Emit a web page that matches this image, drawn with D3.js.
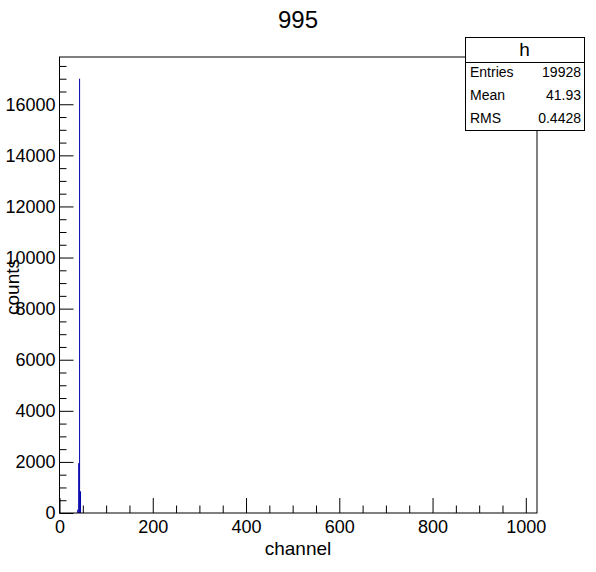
<!DOCTYPE html>
<html>
<head>
<meta charset="utf-8">
<script src="https://cdn.jsdelivr.net/npm/d3@7"></script>
<style>
  body { margin: 0; background: #fff; }
  text { font-family: "Liberation Sans", Arial, sans-serif; }
</style>
</head>
<body>
<svg></svg>
<script>
// histogrammin data: kanavat (bin alku), leveys 2 ja lukumäärät
const binStarts = [38, 40, 42, 44];
const binWidth = 2;
const counts = [130, 1950, 17000, 850];

const xMajorTicks = [0, 200, 400, 600, 800, 1000];
const yMajorTicks = [0, 2000, 4000, 6000, 8000, 10000, 12000, 14000, 16000];

const statLabels = ["Entries", "Mean", "RMS"];
const statValues = ["19928", "41.93", "0.4428"];

const width = 596, height = 572;

const svg = d3.select("svg")
    .attr("width", width)
    .attr("height", height);

// kehys
const frame = { left: 59.5, right: 537, top: 57, bottom: 513 };

const xScale = d3.scaleLinear()
    .domain([0, 1024])
    .range([frame.left, frame.right]);

const yScale = d3.scaleLinear()
    .domain([0, d3.max(counts) * 1.05])
    .range([frame.bottom, frame.top]);

// pylväät
svg.append("g")
    .selectAll("rect")
    .data(binStarts)
    .enter()
    .append("rect")
    .attr("x", d => xScale(d))
    .attr("width", d => Math.max(1, xScale(d + binWidth) - xScale(d)))
    .attr("y", (d, i) => yScale(counts[i]))
    .attr("height", (d, i) => yScale(0) - yScale(counts[i]))
    .attr("fill", "#0000aa");

// kehys viivat
svg.append("rect")
    .attr("x", frame.left)
    .attr("y", frame.top)
    .attr("width", frame.right - frame.left)
    .attr("height", frame.bottom - frame.top)
    .attr("fill", "none")
    .attr("stroke", "#000")
    .attr("stroke-width", 1);

// x-akseli
const xMinor = d3.range(0, 1024, 50).filter(v => v % 200 !== 0);

svg.append("g")
    .attr("transform", `translate(0, ${frame.bottom})`)
    .call(d3.axisBottom(xScale).tickValues(xMinor).tickSize(-7.5).tickFormat(""))
    .call(g => g.select(".domain").remove());

const xAxisGroup = svg.append("g")
    .attr("transform", `translate(0, ${frame.bottom})`)
    .call(d3.axisBottom(xScale).tickValues(xMajorTicks).tickSize(-15).tickPadding(7).tickFormat(d3.format("d")));
xAxisGroup.select(".domain").remove();
xAxisGroup.selectAll("text")
    .attr("font-size", 18)
    .attr("font-family", "Liberation Sans, Arial, sans-serif")
    .attr("fill", "#000");

// y-akseli
const yMax = yScale.domain()[1];
const yMinor = d3.range(0, yMax, 500).filter(v => v % 2000 !== 0);

svg.append("g")
    .attr("transform", `translate(${frame.left}, 0)`)
    .call(d3.axisLeft(yScale).tickValues(yMinor).tickSize(-7).tickFormat(""))
    .call(g => g.select(".domain").remove());

const yAxisGroup = svg.append("g")
    .attr("transform", `translate(${frame.left}, 0)`)
    .call(d3.axisLeft(yScale).tickValues(yMajorTicks).tickSize(-14).tickPadding(4).tickFormat(d3.format("d")));
yAxisGroup.select(".domain").remove();
yAxisGroup.selectAll("text")
    .attr("font-size", 18)
    .attr("font-family", "Liberation Sans, Arial, sans-serif")
    .attr("fill", "#000");

// otsikot
svg.append("text")
    .attr("x", 298)
    .attr("y", 28)
    .attr("text-anchor", "middle")
    .attr("font-size", 24)
    .text("995");

svg.append("text")
    .attr("x", 298)
    .attr("y", 555)
    .attr("text-anchor", "middle")
    .attr("font-size", 19)
    .text("channel");

svg.append("text")
    .attr("transform", "translate(19, 287) rotate(-90)")
    .attr("text-anchor", "middle")
    .attr("font-size", 19)
    .text("counts");

// tilastolaatikko
const box = { x: 465, y: 37, w: 119, h: 93, head: 25 };
const statsGroup = svg.append("g");

statsGroup.append("rect")
    .attr("x", box.x + 0.5)
    .attr("y", box.y + 0.5)
    .attr("width", box.w)
    .attr("height", box.h)
    .attr("fill", "#fff")
    .attr("stroke", "#000");

statsGroup.append("line")
    .attr("x1", box.x + 0.5)
    .attr("x2", box.x + box.w + 0.5)
    .attr("y1", box.y + box.head + 0.5)
    .attr("y2", box.y + box.head + 0.5)
    .attr("stroke", "#000");

statsGroup.append("text")
    .attr("x", box.x + box.w / 2)
    .attr("y", box.y + 19)
    .attr("text-anchor", "middle")
    .attr("font-size", 19)
    .text("h");

const rowH = (box.h - box.head) / statLabels.length;
statLabels.forEach((label, i) => {
    const y = box.y + box.head + rowH * i + rowH / 2 + 4;
    statsGroup.append("text")
        .attr("x", box.x + 5)
        .attr("y", y)
        .attr("font-size", 14)
        .text(label);
    statsGroup.append("text")
        .attr("x", box.x + box.w - 3)
        .attr("y", y)
        .attr("text-anchor", "end")
        .attr("font-size", 14)
        .text(statValues[i]);
});
</script>
</body>
</html>
